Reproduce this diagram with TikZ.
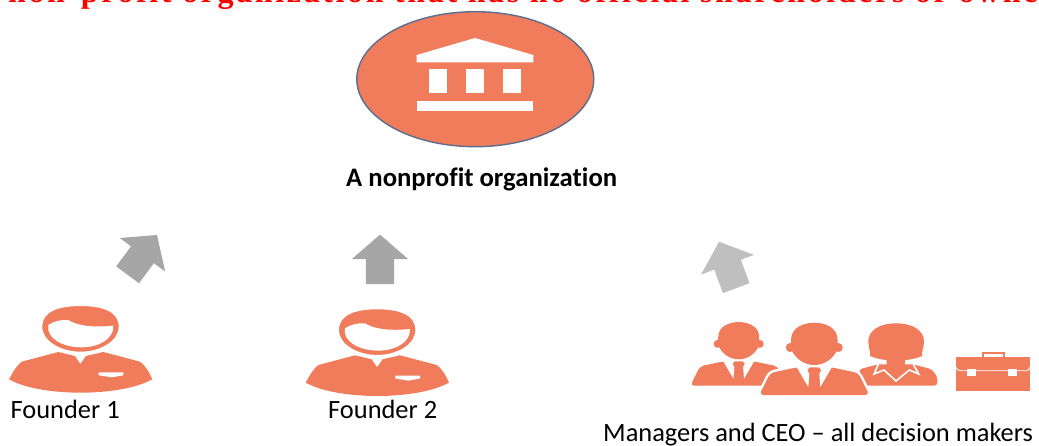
\documentclass[tikz,border=0pt]{standalone}
\usepackage{fontspec}
\setmainfont{Carlito}[Ligatures=NoCommon]
\newfontfamily\titlefont{Liberation Serif}[LetterSpace=8.2]
\usetikzlibrary{shapes.geometric,shapes.arrows}
\definecolor{orgfill}{HTML}{F07C5C}
\definecolor{orgline}{HTML}{5A6E8E}
\begin{document}
\begin{tikzpicture}[
    x = 1pt,
    y = -1pt,
    org/.style = {ellipse, fill=orgfill, draw=orgline, line width=1.4pt,
              minimum width=237pt, minimum height=135pt, inner sep=0pt},
    bigarrow/.style = {single arrow, fill=#1, anchor=tail, inner sep=14pt,
              minimum width=56pt, minimum height=49.5pt,
              single arrow head extend=14pt, single arrow tip angle=98},
    label/.style = {anchor=base west, inner sep=0pt, text=black,
              font=\fontsize{26.4}{30}\selectfont},
    founder/.pic = {
        \fill[orgfill] (9,379.3) .. controls (13,372) and (17,365) .. (21.7,361.7)
            -- (58.3,352) -- (75,356) -- (80.3,364) -- (86,356) -- (103.3,352)
            -- (140,361.7) .. controls (145,365) and (149,372) .. (152.3,379.3)
            .. controls (135,389) and (105,392.7) .. (80.5,392.7)
            .. controls (56,392.7) and (26,389) .. (9,379.3) -- cycle;
        \fill[white] (98.7,372.3) -- (123.3,372.3) -- (123.3,375.3) -- (111.7,377.3)
            -- (98.7,375.3) -- cycle;
        \filldraw[fill=orgfill, draw=white, line width=1.6pt] (41.5,326.7) .. controls (41.5,310) and (60,305.2) .. (80.5,305.2)
            .. controls (101,305.2) and (119.5,310) .. (119.5,326.7)
            .. controls (119.5,342) and (100,352.5) .. (80.5,352.5)
            .. controls (61,352.5) and (41.5,342) .. (41.5,326.7) -- cycle;
        \fill[white] (48.3,325) .. controls (54,321) and (62,319.5) .. (68.3,320)
            .. controls (76,325) and (90,328) .. (113.3,325.7)
            .. controls (114,338) and (100,347.3) .. (81.7,347.3)
            .. controls (62,347.3) and (46,338) .. (48.3,325) -- cycle;
    },
    manager/.pic = {
        \fill[white, draw=white, line width=5pt, rounded corners=4pt] (-55,0) -- (-44,-22)
            -- (-17,-27.7) -- (17,-27.7) -- (44,-22) -- (55,0) -- cycle;
        \fill[orgfill, rounded corners=4pt] (-55,0) -- (-44,-22)
            -- (-17,-27.7) -- (17,-27.7) -- (44,-22) -- (55,0) -- cycle;
        \fill[white] (-18,-28.5) -- (-6,-8) -- (-5,-21) -- (-7,-25) -- (-4,-28.5) -- cycle;
        \fill[white] (18,-28.5) -- (6,-8) -- (5,-21) -- (7,-25) -- (4,-28.5) -- cycle;
        \fill[orgfill] (-24,-47.5) circle (4.5);
        \fill[orgfill] (24,-47.5) circle (4.5);
        \fill[orgfill] (-23.3,-55) .. controls (-23.3,-68) and (-10,-72.3) .. (0,-72.3)
            .. controls (10,-72.3) and (23.3,-68) .. (23.3,-55) -- (23.3,-46)
            .. controls (19,-36) and (10,-30) .. (0,-30)
            .. controls (-10,-30) and (-19,-36) .. (-23.3,-46) -- cycle;
    },
    ]

\useasboundingbox (0,0) rectangle (1039,446);

\node[anchor=base west, inner sep=0pt, text=red, font=\titlefont\bfseries\fontsize{32}{36}\selectfont]
    (title) at (8,2.5) {non-profit organization that has no official shareholders or owners};

\node[org] (org) at (475.3,79.2) {};
\fill[white] (416.7,55) -- (475,38) -- (533.3,55) -- (533.3,62.3) -- (416.7,62.3) -- cycle;
\fill[white] (429,69.3) rectangle (447.3,93.3);
\fill[white] (466,69.3) rectangle (484,93.3);
\fill[white] (502.7,69.3) rectangle (521.3,93.3);
\fill[white] (416.7,100.7) rectangle (533.3,110.7);
\node[label, font=\bfseries\fontsize{26.7}{30}\selectfont] (org_label) at (346,186.5) {A nonprofit organization};

\node[bigarrow={black!35}, rotate=53.6] (arrow_1) at (127.5,275) {};
\node[bigarrow={black!35}, rotate=90] (arrow_2) at (380,284.3) {};
\node[bigarrow={black!25}, rotate=110.4] (arrow_3) at (736.3,288.3) {};

\pic (founder_1) at (0,0) {founder};
\pic (founder_2) at (296.7,3.3) {founder};
\node[label] (founder_1_label) at (10.5,418) {Founder 1};
\node[label] (founder_2_label) at (328,418.5) {Founder 2};

\pic[scale=0.88] (manager_1) at (738.7,385.7) {manager};
\fill[orgfill, rounded corners=3pt] (859.3,369.3) -- (878.3,364.3) -- (913.3,364.3) -- (931.7,369.3)
    -- (937.3,376.7) -- (937.3,385.7) -- (860,385.7) -- cycle;
\fill[orgfill] (886.7,356) -- (905,356) -- (905,364.3) -- (896,374) -- (886.7,364.3) -- cycle;
\draw[white, line width=1.6pt] (878.3,364.3) -- (874,374) -- (884,370) -- (896,381) -- (909.3,370)
    -- (918.7,374) -- (913.3,364.3);
\fill[orgfill] (868.3,341.7) .. controls (868.3,330) and (880,323.3) .. (896,323.3)
    .. controls (912,323.3) and (924,330) .. (924,341.7)
    .. controls (924,348) and (921,352) .. (922.3,356)
    .. controls (915,359) and (905,360.7) .. (896,360.7)
    .. controls (887,360.7) and (877,359) .. (870,356)
    .. controls (871,352) and (868.3,348) .. (868.3,341.7) -- cycle;
\pic (manager_2) at (814.3,395) {manager};

\fill[orgfill] (981.7,352.3) rectangle (1005,358);
\fill[white] (984,354.2) rectangle (1003.3,357);
\fill[orgfill] (956,357) rectangle (1030,391.3);
\draw[white, line width=0.9pt] (956,367.3) .. controls (957,369.5) and (958,370.7) .. (960,370.7)
    -- (1026.7,370.7) .. controls (1028,370.7) and (1029,369.5) .. (1030,367.3);
\fill[white] (966.7,369) rectangle (976,375.7);
\fill[white] (1008.3,369) rectangle (1017.3,375.7);

\node[label] (manager_label) at (603,441) {Managers and CEO -- all decision makers};

\end{tikzpicture}
\end{document}
